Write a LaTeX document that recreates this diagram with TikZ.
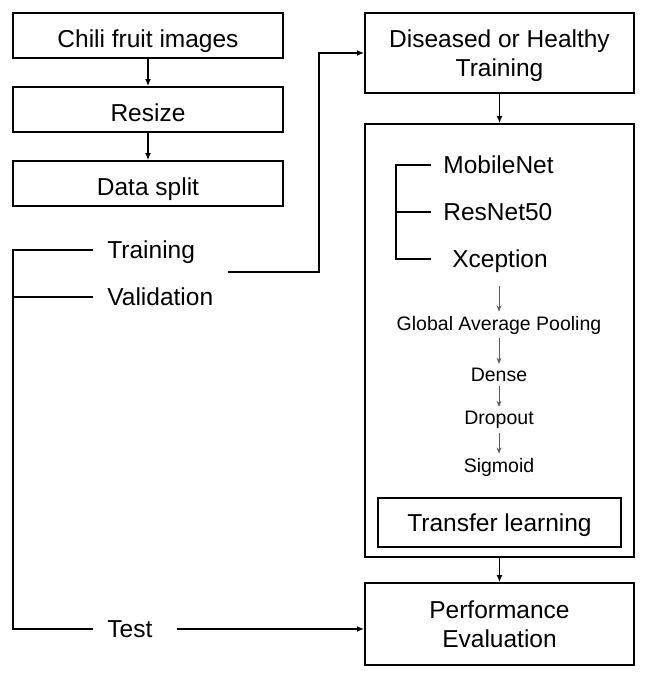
\documentclass[tikz,border=0pt]{standalone}
\usepackage{fontspec}
\setmainfont{Liberation Sans}
\usetikzlibrary{arrows.meta}

\begin{document}
\begin{tikzpicture}[x=0.5pt, y=-0.5pt, >={Latex[length=3.5pt,width=3pt]},
  box/.style={draw, line width=1pt, minimum width=135pt, inner sep=0pt, align=center,
    text depth=0pt, font=\fontsize{12.25}{14.5}\selectfont},
  onel/.style={text height=11.8pt},
  lbl/.style={font=\fontsize{12.25}{14.5}\selectfont, inner xsep=7pt, inner ysep=2pt, text depth=0pt},
  layer/.style={font=\fontsize{9.75}{11}\selectfont, inner sep=1pt},
  arr/.style={->, line width=0.6pt},
  link/.style={line width=0.6pt},
  sarr/.style={-{Stealth[length=3pt,width=2.4pt]}, line width=0.35pt, gray!70!black,
    shorten <=1pt, shorten >=1pt}]
\useasboundingbox (0,0) rectangle (648,681);
% preprocessing
\node[box, onel, minimum height=22.5pt] (img)   at (148,35.5)  {Chili fruit images};
\node[box, onel, minimum height=22.5pt] (rsz)   at (148,109.5) {Resize};
\node[box, onel, minimum height=22.5pt] (split) at (148,183.5) {Data split};
\draw[arr] (img) -- (rsz);
\draw[arr] (rsz) -- (split);
% data split
\node[lbl, anchor=west] (tr) at (93,250) {Training};
\node[lbl, anchor=west] (va) at (93,297) {Validation};
\node[lbl, anchor=west] (te) at (93,629) {Test};
\coordinate (lx) at (13,0);
\draw[link] (tr.west) -- (tr.west -| lx) |- (te.west);
\draw[link] (va.west) -- (va.west -| lx);
% training path
\node[box, minimum width=134.5pt, minimum height=40pt] (dis) at (499.5,53) {Diseased or Healthy\\Training};
\node[draw, line width=1pt, minimum width=134.5pt, minimum height=216.5pt, inner sep=0pt] (cnn) at (499.5,340.5) {};
\node[box, minimum width=134.5pt, minimum height=41pt] (perf) at (499.5,624) {Performance\\Evaluation};
\draw[arr] (dis) -- (cnn);
\draw[arr] (cnn) -- (perf);
\coordinate (trout) at (228,272);
\draw[arr] (trout) -| ([xshift=-22.5pt]dis.west) -- (dis.west);
\draw[arr] ([xshift=5pt]te.east) -- (te.east -| perf.west);
% backbones
\node[lbl, anchor=west, inner xsep=6pt] (mn) at (431,165) {MobileNet};
\node[lbl, anchor=west, inner xsep=6pt] (rn) at (431,212) {ResNet50};
\node[lbl, anchor=west, inner xsep=6pt] (xc) at (440,259) {Xception};
\coordinate (bx) at (396,0);
\draw[link] (mn.west) -- (mn.west -| bx) |- (xc.west -| mn.west);
\draw[link] (rn.west) -- (rn.west -| bx);
% head
\node[layer] (gap)   at (499,325) {Global Average Pooling};
\node[layer] (dense) at (499,375) {Dense};
\node[layer] (drop)  at (499,420) {Dropout};
\node[layer] (sig)   at (499,467) {Sigmoid};
\draw[sarr, shorten <=7pt] (gap.north |- xc.south) -- (gap.north);
\draw[sarr] (gap) -- (dense);
\draw[sarr] (dense) -- (drop);
\draw[sarr] (drop) -- (sig);
\node[box, minimum width=121.5pt, minimum height=24.5pt] (tl) at (499.5,522.5) {Transfer learning};
\end{tikzpicture}
\end{document}
